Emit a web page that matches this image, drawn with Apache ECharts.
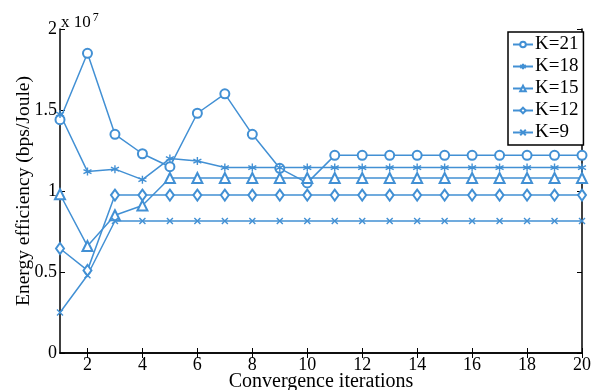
<!DOCTYPE html>
<html>
<head>
<meta charset="utf-8">
<script src="https://cdn.jsdelivr.net/npm/echarts@6/dist/echarts.min.js"></script>
<style>
  html, body { margin: 0; padding: 0; background: #fff; }
  #chart { width: 596px; height: 390px; }
</style>
</head>
<body>
<div id="chart"></div>
<script>
// Iteration index
const iterations = [1,2,3,4,5,6,7,8,9,10,11,12,13,14,15,16,17,18,19,20];

// Energy efficiency per iteration, in units of 10^7 bps/Joule
const k21 = [1.44, 1.85, 1.35, 1.23, 1.15, 1.48, 1.60, 1.35, 1.14, 1.05, 1.22, 1.22, 1.22, 1.22, 1.22, 1.22, 1.22, 1.22, 1.22, 1.22];
const k18 = [1.475, 1.12, 1.135, 1.07, 1.20, 1.185, 1.145, 1.145, 1.145, 1.145, 1.145, 1.145, 1.145, 1.145, 1.145, 1.145, 1.145, 1.145, 1.145, 1.145];
const k15 = [0.98, 0.66, 0.85, 0.91, 1.08, 1.08, 1.08, 1.08, 1.08, 1.08, 1.08, 1.08, 1.08, 1.08, 1.08, 1.08, 1.08, 1.08, 1.08, 1.08];
const k12 = [0.645, 0.51, 0.975, 0.975, 0.975, 0.975, 0.975, 0.975, 0.975, 0.975, 0.975, 0.975, 0.975, 0.975, 0.975, 0.975, 0.975, 0.975, 0.975, 0.975];
const k9  = [0.25, 0.48, 0.815, 0.815, 0.815, 0.815, 0.815, 0.815, 0.815, 0.815, 0.815, 0.815, 0.815, 0.815, 0.815, 0.815, 0.815, 0.815, 0.815, 0.815];

const seriesNames = ['K=21', 'K=18', 'K=15', 'K=12', 'K=9'];
const xTicks = [2, 4, 6, 8, 10, 12, 14, 16, 18, 20];
const yTickLabels = ['0', '0.5', '1', '1.5', '2'];

const blue = '#4290d4';
const font = 'Liberation Serif, Times New Roman, serif';

// Stroke-only marker shapes
const starPath = 'path://M5,0 L5,10 M0.7,2.5 L9.3,7.5 M0.7,7.5 L9.3,2.5';
const crossPath = 'path://M0,0 L10,10 M0,10 L10,0';

function pairs(vals) { return iterations.map((x, i) => [x, vals[i]]); }

function makeSeries(name, vals, symbol, size) {
  return {
    name: name,
    type: 'line',
    data: pairs(vals),
    symbol: symbol,
    symbolSize: size,
    showAllSymbol: true,
    lineStyle: { color: blue, width: 1.5 },
    itemStyle: { color: blue, borderColor: blue, borderWidth: 1.4 },
    emphasis: { disabled: true },
    animation: false
  };
}

const chart = echarts.init(document.getElementById('chart'));

const axisLineStyle = { color: '#000', width: 1.5 };

chart.setOption({
  backgroundColor: '#fff',
  animation: false,
  grid: { left: 60, right: 14, top: 29, bottom: 37, outerBoundsMode: 'none', containLabel: false },
  xAxis: [{
    type: 'value', min: 1, max: 20,
    name: 'Convergence iterations', nameLocation: 'middle', nameGap: 19,
    nameMoveOverlap: false,
    nameTextStyle: { fontFamily: font, fontSize: 20, color: '#000' },
    axisLine: { lineStyle: axisLineStyle },
    axisTick: { inside: true, length: 5, lineStyle: { color: '#000' }, customValues: xTicks },
    axisLabel: { fontFamily: font, fontSize: 18, color: '#000', margin: 3, customValues: xTicks },
    splitLine: { show: false }
  }, {
    type: 'value', min: 1, max: 20, position: 'top',
    axisLine: { lineStyle: axisLineStyle },
    axisTick: { inside: true, length: 5, lineStyle: { color: '#000' }, customValues: xTicks },
    axisLabel: { show: false },
    splitLine: { show: false }
  }],
  yAxis: [{
    type: 'value', min: 0, max: 2, interval: 0.5,
    name: 'Energy efficiency (bps/Joule)', nameLocation: 'middle', nameGap: 26,
    nameMoveOverlap: false,
    nameTextStyle: { fontFamily: font, fontSize: 19.5, color: '#000' },
    axisLine: { show: true, lineStyle: axisLineStyle },
    axisTick: { show: true, inside: true, length: 5, lineStyle: { color: '#000' } },
    axisLabel: {
      fontFamily: font, fontSize: 18, color: '#000', margin: 3,
      formatter: (v) => yTickLabels[Math.round(v / 0.5)]
    },
    splitLine: { show: false }
  }, {
    type: 'value', min: 0, max: 2, interval: 0.5, position: 'right',
    axisLine: { show: true, lineStyle: axisLineStyle },
    axisTick: { show: true, inside: true, length: 5, lineStyle: { color: '#000' } },
    axisLabel: { show: false },
    splitLine: { show: false }
  }],
  legend: {
    data: seriesNames,
    orient: 'vertical',
    left: 508, top: 32,
    padding: [3, 5, 3, 4],
    itemGap: 3,
    itemWidth: 20, itemHeight: 7,
    backgroundColor: '#fff',
    borderColor: '#000', borderWidth: 1.5,
    textStyle: { fontFamily: font, fontSize: 19, color: '#000', padding: [0, 0, 0, -3] }
  },
  graphic: [{
    type: 'text',
    left: 61, top: 12,
    style: {
      text: '{a|x 10}{b|7}',
      rich: {
        a: { fontFamily: font, fontSize: 17, fill: '#000', verticalAlign: 'bottom' },
        b: { fontFamily: font, fontSize: 12, fill: '#000', verticalAlign: 'top', padding: [0, 0, 7, 2] }
      }
    }
  }],
  series: [
    makeSeries('K=21', k21, 'emptyCircle', 9),
    makeSeries('K=18', k18, starPath, 8),
    makeSeries('K=15', k15, 'emptyTriangle', 10),
    makeSeries('K=12', k12, 'emptyDiamond', [8, 11]),
    makeSeries('K=9',  k9,  crossPath, 6)
  ]
});
</script>
</body>
</html>
